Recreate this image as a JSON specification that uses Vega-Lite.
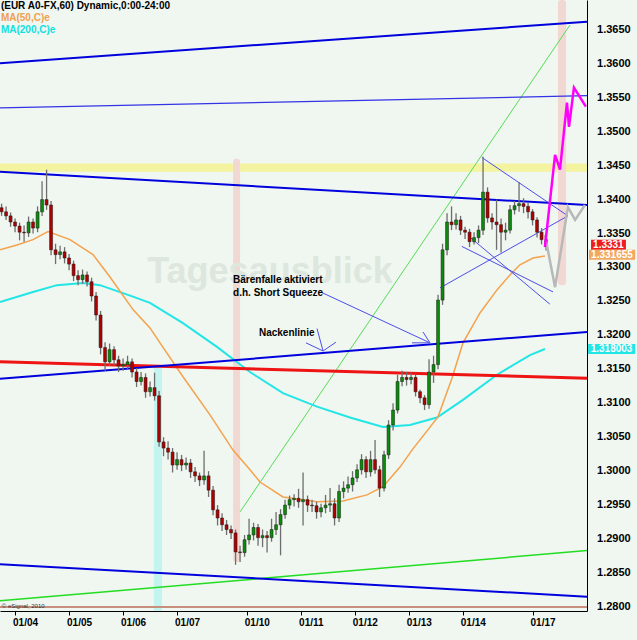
{
  "$schema": "https://vega.github.io/schema/vega-lite/v6.json",
  "width": 587,
  "height": 611,
  "autosize": "none",
  "padding": {"left": 0, "top": 0, "right": 50, "bottom": 29},
  "background": "#f0f6f0",
  "config": {"view": {"stroke": null}, "font": "Liberation Sans"},
  "datasets": {
    "candles": [
      {"t":-6,"o":1.3388,"h":1.3394,"l":1.3376,"c":1.3382},
      {"t":-4,"o":1.3382,"h":1.3390,"l":1.3370,"c":1.3376},
      {"t":-2,"o":1.3376,"h":1.3381,"l":1.3360,"c":1.3367},
      {"t":0,"o":1.3367,"h":1.3372,"l":1.3352,"c":1.3361},
      {"t":2,"o":1.3361,"h":1.3366,"l":1.3340,"c":1.3352},
      {"t":4,"o":1.3352,"h":1.3362,"l":1.3338,"c":1.3351},
      {"t":6,"o":1.3351,"h":1.3375,"l":1.3345,"c":1.3367},
      {"t":8,"o":1.3367,"h":1.3372,"l":1.3350,"c":1.3358},
      {"t":10,"o":1.3358,"h":1.3390,"l":1.3352,"c":1.3382},
      {"t":12,"o":1.3382,"h":1.3427,"l":1.3376,"c":1.3400},
      {"t":14,"o":1.3400,"h":1.3444,"l":1.3385,"c":1.3392},
      {"t":16,"o":1.3392,"h":1.3398,"l":1.3318,"c":1.3326},
      {"t":18,"o":1.3326,"h":1.3335,"l":1.3305,"c":1.3319},
      {"t":20,"o":1.3319,"h":1.3332,"l":1.3312,"c":1.3323},
      {"t":22,"o":1.3323,"h":1.3330,"l":1.3306,"c":1.3314},
      {"t":24,"o":1.3314,"h":1.3320,"l":1.3296,"c":1.3305},
      {"t":26,"o":1.3305,"h":1.3310,"l":1.3280,"c":1.3288},
      {"t":28,"o":1.3288,"h":1.3296,"l":1.3274,"c":1.3282},
      {"t":30,"o":1.3282,"h":1.3297,"l":1.3276,"c":1.3289},
      {"t":32,"o":1.3289,"h":1.3294,"l":1.3272,"c":1.3279},
      {"t":34,"o":1.3279,"h":1.3285,"l":1.3250,"c":1.3258},
      {"t":36,"o":1.3258,"h":1.3264,"l":1.3222,"c":1.3230},
      {"t":38,"o":1.3230,"h":1.3236,"l":1.3172,"c":1.3182},
      {"t":40,"o":1.3182,"h":1.3190,"l":1.3148,"c":1.3161},
      {"t":42,"o":1.3161,"h":1.3188,"l":1.3155,"c":1.3179},
      {"t":44,"o":1.3179,"h":1.3184,"l":1.3156,"c":1.3164},
      {"t":46,"o":1.3164,"h":1.3170,"l":1.3146,"c":1.3155},
      {"t":48,"o":1.3155,"h":1.3166,"l":1.3148,"c":1.3157},
      {"t":50,"o":1.3157,"h":1.3170,"l":1.3150,"c":1.3161},
      {"t":52,"o":1.3161,"h":1.3166,"l":1.3138,"c":1.3146},
      {"t":54,"o":1.3146,"h":1.3152,"l":1.3124,"c":1.3132},
      {"t":56,"o":1.3132,"h":1.3146,"l":1.3126,"c":1.3138},
      {"t":58,"o":1.3138,"h":1.3144,"l":1.3108,"c":1.3117},
      {"t":60,"o":1.3117,"h":1.3132,"l":1.3110,"c":1.3123},
      {"t":62,"o":1.3123,"h":1.3145,"l":1.3104,"c":1.3111},
      {"t":64,"o":1.3111,"h":1.3118,"l":1.3036,"c":1.3043},
      {"t":66,"o":1.3043,"h":1.3050,"l":1.3022,"c":1.3034},
      {"t":68,"o":1.3034,"h":1.3044,"l":1.3017,"c":1.3028},
      {"t":70,"o":1.3028,"h":1.3034,"l":1.2998,"c":1.3009},
      {"t":72,"o":1.3009,"h":1.3028,"l":1.3002,"c":1.3017},
      {"t":74,"o":1.3017,"h":1.3024,"l":1.3000,"c":1.3009},
      {"t":76,"o":1.3009,"h":1.3020,"l":1.3002,"c":1.3012},
      {"t":78,"o":1.3012,"h":1.3018,"l":1.2990,"c":1.2999},
      {"t":80,"o":1.2999,"h":1.3006,"l":1.2984,"c":1.2993},
      {"t":82,"o":1.2993,"h":1.2998,"l":1.2978,"c":1.2987},
      {"t":84,"o":1.2987,"h":1.3030,"l":1.2980,"c":1.2993},
      {"t":86,"o":1.2993,"h":1.3000,"l":1.2962,"c":1.2972},
      {"t":88,"o":1.2972,"h":1.2978,"l":1.2935,"c":1.2943},
      {"t":90,"o":1.2943,"h":1.2950,"l":1.2920,"c":1.2931},
      {"t":92,"o":1.2931,"h":1.2938,"l":1.2912,"c":1.2921},
      {"t":94,"o":1.2921,"h":1.2928,"l":1.2906,"c":1.2914},
      {"t":96,"o":1.2914,"h":1.2920,"l":1.2900,"c":1.2909},
      {"t":98,"o":1.2909,"h":1.2914,"l":1.2862,"c":1.2881},
      {"t":100,"o":1.2881,"h":1.2890,"l":1.2866,"c":1.2880},
      {"t":102,"o":1.2880,"h":1.2906,"l":1.2874,"c":1.2899},
      {"t":104,"o":1.2899,"h":1.2930,"l":1.2892,"c":1.2906},
      {"t":106,"o":1.2906,"h":1.2924,"l":1.2898,"c":1.2917},
      {"t":108,"o":1.2917,"h":1.2922,"l":1.2890,"c":1.2902},
      {"t":110,"o":1.2902,"h":1.2914,"l":1.2888,"c":1.2905},
      {"t":112,"o":1.2905,"h":1.2912,"l":1.2880,"c":1.2902},
      {"t":114,"o":1.2902,"h":1.2930,"l":1.2896,"c":1.2914},
      {"t":116,"o":1.2914,"h":1.2940,"l":1.2906,"c":1.2921},
      {"t":118,"o":1.2921,"h":1.2944,"l":1.2876,"c":1.2936},
      {"t":120,"o":1.2936,"h":1.2958,"l":1.2930,"c":1.2950},
      {"t":122,"o":1.2950,"h":1.2964,"l":1.2944,"c":1.2958},
      {"t":124,"o":1.2958,"h":1.2966,"l":1.2948,"c":1.2960},
      {"t":126,"o":1.2960,"h":1.2974,"l":1.2946,"c":1.2955},
      {"t":128,"o":1.2955,"h":1.2998,"l":1.2920,"c":1.2958},
      {"t":130,"o":1.2958,"h":1.2964,"l":1.2940,"c":1.2950},
      {"t":132,"o":1.2950,"h":1.2958,"l":1.2940,"c":1.2949},
      {"t":134,"o":1.2949,"h":1.2955,"l":1.2930,"c":1.2940},
      {"t":136,"o":1.2940,"h":1.2952,"l":1.2932,"c":1.2946},
      {"t":138,"o":1.2946,"h":1.2965,"l":1.2938,"c":1.2950},
      {"t":140,"o":1.2950,"h":1.2975,"l":1.2940,"c":1.2952},
      {"t":142,"o":1.2952,"h":1.2960,"l":1.2920,"c":1.2931},
      {"t":144,"o":1.2931,"h":1.2980,"l":1.2925,"c":1.2970},
      {"t":146,"o":1.2970,"h":1.2985,"l":1.2960,"c":1.2975},
      {"t":148,"o":1.2975,"h":1.2992,"l":1.2968,"c":1.2980},
      {"t":150,"o":1.2980,"h":1.3000,"l":1.2970,"c":1.2990},
      {"t":152,"o":1.2990,"h":1.3010,"l":1.2984,"c":1.3002},
      {"t":154,"o":1.3002,"h":1.3025,"l":1.2995,"c":1.3017},
      {"t":156,"o":1.3017,"h":1.3022,"l":1.2990,"c":1.2999},
      {"t":158,"o":1.2999,"h":1.3030,"l":1.2992,"c":1.3017},
      {"t":160,"o":1.3017,"h":1.3046,"l":1.2996,"c":1.3002},
      {"t":162,"o":1.3002,"h":1.3008,"l":1.2962,"c":1.2975},
      {"t":164,"o":1.2975,"h":1.3030,"l":1.2970,"c":1.3024},
      {"t":166,"o":1.3024,"h":1.3075,"l":1.3018,"c":1.3068},
      {"t":168,"o":1.3068,"h":1.3100,"l":1.3060,"c":1.3090},
      {"t":170,"o":1.3090,"h":1.3142,"l":1.3085,"c":1.3132},
      {"t":172,"o":1.3132,"h":1.3148,"l":1.3125,"c":1.3138},
      {"t":174,"o":1.3138,"h":1.3146,"l":1.3126,"c":1.3135},
      {"t":176,"o":1.3135,"h":1.3145,"l":1.3128,"c":1.3138},
      {"t":178,"o":1.3138,"h":1.3142,"l":1.3110,"c":1.3117},
      {"t":180,"o":1.3117,"h":1.3120,"l":1.3100,"c":1.3108},
      {"t":182,"o":1.3108,"h":1.3112,"l":1.3090,"c":1.3098},
      {"t":184,"o":1.3098,"h":1.3165,"l":1.3092,"c":1.3146},
      {"t":186,"o":1.3146,"h":1.3170,"l":1.3130,"c":1.3157},
      {"t":188,"o":1.3157,"h":1.3260,"l":1.3150,"c":1.3252},
      {"t":190,"o":1.3252,"h":1.3335,"l":1.3245,"c":1.3326},
      {"t":192,"o":1.3326,"h":1.3380,"l":1.3318,"c":1.3367},
      {"t":194,"o":1.3367,"h":1.3390,"l":1.3355,"c":1.3363},
      {"t":196,"o":1.3363,"h":1.3380,"l":1.3356,"c":1.3370},
      {"t":198,"o":1.3370,"h":1.3376,"l":1.3348,"c":1.3355},
      {"t":200,"o":1.3355,"h":1.3360,"l":1.3342,"c":1.3352},
      {"t":202,"o":1.3352,"h":1.3357,"l":1.3330,"c":1.3338},
      {"t":204,"o":1.3338,"h":1.3352,"l":1.3334,"c":1.3344},
      {"t":206,"o":1.3344,"h":1.3362,"l":1.3336,"c":1.3355},
      {"t":208,"o":1.3355,"h":1.3463,"l":1.3348,"c":1.3411},
      {"t":210,"o":1.3411,"h":1.3418,"l":1.3366,"c":1.3373},
      {"t":212,"o":1.3373,"h":1.3380,"l":1.3356,"c":1.3367},
      {"t":214,"o":1.3367,"h":1.3400,"l":1.3326,"c":1.3363},
      {"t":216,"o":1.3363,"h":1.3372,"l":1.3322,"c":1.3352},
      {"t":218,"o":1.3352,"h":1.3366,"l":1.3340,"c":1.3355},
      {"t":220,"o":1.3355,"h":1.3392,"l":1.3350,"c":1.3385},
      {"t":222,"o":1.3385,"h":1.3398,"l":1.3378,"c":1.3391},
      {"t":224,"o":1.3391,"h":1.3426,"l":1.3382,"c":1.3394},
      {"t":226,"o":1.3394,"h":1.3402,"l":1.3380,"c":1.3390},
      {"t":228,"o":1.3390,"h":1.3395,"l":1.3372,"c":1.3382},
      {"t":230,"o":1.3382,"h":1.3386,"l":1.3362,"c":1.3370},
      {"t":232,"o":1.3370,"h":1.3374,"l":1.3344,"c":1.3352},
      {"t":234,"o":1.3352,"h":1.3358,"l":1.3334,"c":1.3341},
      {"t":236,"o":1.3341,"h":1.3346,"l":1.3325,"c":1.3331}
    ],
    "blueThick": [
      {"id":"b1","t":-6.7,"p":1.3601},{"id":"b1","t":254.2,"p":1.3662},
      {"id":"b3","t":-6.7,"p":1.3441},{"id":"b3","t":254.2,"p":1.3392},
      {"id":"b4","t":-6.7,"p":1.3136},{"id":"b4","t":254.2,"p":1.3205},
      {"id":"b5","t":-6.7,"p":1.2863},{"id":"b5","t":254.2,"p":1.2815}
    ],
    "blueThin": [{"t":-6.7,"p":1.3535},{"t":254.2,"p":1.3553}],
    "red": [{"t":-6.7,"p":1.3161},{"t":254.2,"p":1.3137}],
    "greenLow": [{"t":-6.7,"p":1.2809},{"t":254.2,"p":1.2883}],
    "greenDiag": [{"t":100.0,"p":1.2940},{"t":246.6,"p":1.3657}],
    "brown": [{"t":-6.7,"p":1.28},{"t":254.2,"p":1.28}],
    "thin": [
      {"id":"T1","t":207.5,"p":1.3462},{"id":"T1","t":245.7,"p":1.3376},
      {"id":"T2","t":188.9,"p":1.3270},{"id":"T2","t":245.7,"p":1.3376},
      {"id":"C1","t":198.6,"p":1.3331},{"id":"C1","t":239.1,"p":1.3264},
      {"id":"C2","t":201.3,"p":1.3347},{"id":"C2","t":237.7,"p":1.3246},
      {"id":"A1","t":136.4,"p":1.3263},{"id":"A1","t":184.4,"p":1.3189},
      {"id":"A1a","t":181.3,"p":1.3205},{"id":"A1a","t":184.4,"p":1.3189},
      {"id":"A1b","t":176.4,"p":1.3189},{"id":"A1b","t":184.4,"p":1.3189},
      {"id":"A2a","t":134.2,"p":1.3210},{"id":"A2a","t":136.9,"p":1.3177},
      {"id":"A2b","t":129.3,"p":1.3189},{"id":"A2b","t":136.9,"p":1.3177},
      {"id":"A2c","t":136.9,"p":1.3177},{"id":"A2c","t":142.6,"p":1.3190}
    ],
    "ma50": [
      {"t":-6.7,"p":1.3326},{"t":0.86,"p":1.3333},{"t":7.97,"p":1.3341},{"t":14.63,"p":1.3353},
      {"t":24.41,"p":1.3341},{"t":34.63,"p":1.3319},{"t":42.19,"p":1.3286},{"t":52.41,"p":1.3238},
      {"t":59.97,"p":1.3211},{"t":64.41,"p":1.3189},{"t":74.63,"p":1.3139},{"t":86.63,"p":1.3083},
      {"t":96.86,"p":1.3031},{"t":104.41,"p":1.3002},{"t":108.86,"p":1.2984},{"t":119.08,"p":1.2962},
      {"t":134.19,"p":1.2955},{"t":145.74,"p":1.2956},{"t":156.41,"p":1.2965},{"t":163.52,"p":1.2977},
      {"t":171.08,"p":1.3006},{"t":176.41,"p":1.3031},{"t":187.97,"p":1.3080},{"t":194.19,"p":1.3137},
      {"t":199.08,"p":1.3189},{"t":206.63,"p":1.3233},{"t":214.19,"p":1.3267},{"t":219.97,"p":1.3289},
      {"t":224.41,"p":1.3304},{"t":230.19,"p":1.3314},{"t":235.52,"p":1.3317}
    ],
    "ma200": [
      {"t":-6.7,"p":1.3249},{"t":7.97,"p":1.3264},{"t":18.63,"p":1.3274},{"t":30.19,"p":1.3277},
      {"t":37.74,"p":1.3274},{"t":52.41,"p":1.3257},{"t":59.97,"p":1.3248},{"t":74.63,"p":1.3218},
      {"t":89.74,"p":1.3183},{"t":104.41,"p":1.3146},{"t":119.08,"p":1.3115},{"t":134.19,"p":1.3095},
      {"t":148.86,"p":1.3079},{"t":163.52,"p":1.3065},{"t":175.52,"p":1.3068},{"t":187.52,"p":1.3079},
      {"t":199.08,"p":1.3105},{"t":214.19,"p":1.3142},{"t":228.86,"p":1.3171},{"t":235.52,"p":1.3180}
    ],
    "magenta": [
      {"t":235.5,"p":1.3330},{"t":240.0,"p":1.3466},{"t":242.2,"p":1.3444},{"t":245.3,"p":1.3543},
      {"t":246.2,"p":1.3507},{"t":248.4,"p":1.3565},{"t":253.7,"p":1.3537}
    ],
    "gray": [
      {"t":235.5,"p":1.3348},{"t":240.0,"p":1.3271},{"t":245.7,"p":1.3389},{"t":248.9,"p":1.3370},{"t":253.3,"p":1.3392}
    ],
    "tags": [
      {"name": "Kurs", "t": 256.0, "t2": 271.5, "tm": 263.7, "p": 1.33336, "label": "1.3331"},
      {"name": "MA50", "t": 255.1, "t2": 275.6, "tm": 265.3, "p": 1.33186, "label": "1.331655"},
      {"name": "MA200", "t": 254.7, "t2": 275.6, "tm": 265.1, "p": 1.318003, "label": "1.318003"}
    ],
    "priceLabels": [
      {"t": 258.65, "p": 1.28}, {"t": 258.65, "p": 1.285}, {"t": 258.65, "p": 1.29}, {"t": 258.65, "p": 1.295},
      {"t": 258.65, "p": 1.3}, {"t": 258.65, "p": 1.305}, {"t": 258.65, "p": 1.31}, {"t": 258.65, "p": 1.315},
      {"t": 258.65, "p": 1.32}, {"t": 258.65, "p": 1.325}, {"t": 258.65, "p": 1.33}, {"t": 258.65, "p": 1.335},
      {"t": 258.65, "p": 1.34}, {"t": 258.65, "p": 1.345}, {"t": 258.65, "p": 1.35}, {"t": 258.65, "p": 1.355},
      {"t": 258.65, "p": 1.36}, {"t": 258.65, "p": 1.365}
    ]
  },
  "encoding": {
    "x": {
      "field": "t", "type": "quantitative",
      "scale": {"domain": [-6.7, 254.2], "nice": false, "zero": false, "padding": 0},
      "axis": {
        "orient": "bottom", "title": null, "grid": false,
        "values": [0, 24, 48, 72, 103, 127, 151, 175, 199, 230],
        "labelExpr": "datum.value==0?'01/04':datum.value==24?'01/05':datum.value==48?'01/06':datum.value==72?'01/07':datum.value==103?'01/10':datum.value==127?'01/11':datum.value==151?'01/12':datum.value==175?'01/13':datum.value==199?'01/14':'01/17'",
        "labelOffset": 10, "labelFontSize": 10, "labelFontWeight": "bold", "labelColor": "#000000",
        "labelPadding": 2, "tickSize": 4, "tickColor": "#000000", "domainColor": "#000000",
        "labelFlush": false, "labelOverlap": false
      }
    },
    "y": {
      "field": "p", "type": "quantitative",
      "scale": {"domain": [1.2794, 1.3694], "nice": false, "zero": false, "padding": 0},
      "axis": {
        "orient": "right", "title": null, "grid": false,
        "labels": false, "ticks": false, "domainColor": "#000000"
      }
    }
  },
  "layer": [
    {
      "data": {"values": [{"t": -6.7, "t2": 254.2, "p": 1.3441, "p2": 1.3453}]},
      "mark": {"type": "rect", "color": "#f3f3a0"},
      "encoding": {"x2": {"field": "t2"}, "y2": {"field": "p2"}}
    },
    {
      "data": {"values": [{"t": 96.9, "t2": 100.0, "p": 1.2866, "p2": 1.3460}, {"t": 241.3, "t2": 244.9, "p": 1.3274, "p2": 1.3694}]},
      "mark": {"type": "rect", "color": "#f1d8d2", "cornerRadius": 3},
      "encoding": {"x2": {"field": "t2"}, "y2": {"field": "p2"}}
    },
    {
      "data": {"values": [{"t": 61.7, "t2": 65.3, "p": 1.2794, "p2": 1.3154}]},
      "mark": {"type": "rect", "color": "#c4f4f0"},
      "encoding": {"x2": {"field": "t2"}, "y2": {"field": "p2"}}
    },
    {
      "data": {"values": [{"t": 113.3, "p": 1.3294, "label": "Tagesausblick"}]},
      "mark": {"type": "text", "fontSize": 36, "fontWeight": "bold", "color": "#dde7dd", "align": "center", "baseline": "middle"},
      "encoding": {"text": {"field": "label"}}
    },
    {"data": {"name": "brown"}, "mark": {"type": "line", "color": "#c8907c", "strokeWidth": 2}, "encoding": {}},
    {"data": {"name": "greenLow"}, "mark": {"type": "line", "color": "#22dd22", "strokeWidth": 1.5}, "encoding": {}},
    {"data": {"name": "greenDiag"}, "mark": {"type": "line", "color": "#55dd55", "strokeWidth": 1}, "encoding": {}},
    {"data": {"name": "ma200"}, "mark": {"type": "line", "color": "#22e6e6", "strokeWidth": 2}, "encoding": {}},
    {"data": {"name": "ma50"}, "mark": {"type": "line", "color": "#f4a24c", "strokeWidth": 1.5}, "encoding": {}},
    {"data": {"name": "red"}, "mark": {"type": "line", "color": "#ee1414", "strokeWidth": 3}, "encoding": {}},
    {"data": {"name": "blueThin"}, "mark": {"type": "line", "color": "#3333e6", "strokeWidth": 1.3}, "encoding": {}},
    {
      "data": {"name": "blueThick"},
      "mark": {"type": "line", "color": "#0000dd", "strokeWidth": 2},
      "encoding": {"detail": {"field": "id"}}
    },
    {
      "data": {"name": "thin"},
      "mark": {"type": "line", "color": "#4d4dea", "strokeWidth": 1},
      "encoding": {"detail": {"field": "id"}}
    },
    {
      "data": {"name": "candles"},
      "mark": {"type": "rule", "color": "#6e6e6e", "strokeWidth": 1.3},
      "encoding": {"y": {"field": "l", "type": "quantitative"}, "y2": {"field": "h"}}
    },
    {
      "data": {"name": "candles"},
      "mark": {"type": "bar", "width": 3, "stroke": "#1a1a1a", "strokeWidth": 0.5},
      "encoding": {
        "y": {"field": "o", "type": "quantitative"},
        "y2": {"field": "c"},
        "color": {"condition": {"test": "datum.c >= datum.o", "value": "#0a8c0a"}, "value": "#b00000"}
      }
    },
    {"data": {"name": "gray"}, "mark": {"type": "line", "color": "#b8b8b8", "strokeWidth": 2.5}, "encoding": {}},
    {"data": {"name": "magenta"}, "mark": {"type": "line", "color": "#ff00ff", "strokeWidth": 2.5}, "encoding": {}},
    {
      "data": {"values": [
        {"t": 96.9, "p": 1.3282, "label": "Bärenfalle aktiviert"},
        {"t": 96.9, "p": 1.3263, "label": "d.h. Short Squeeze"},
        {"t": 108.4, "p": 1.3204, "label": "Nackenlinie"}
      ]},
      "mark": {"type": "text", "fontSize": 10, "fontWeight": "bold", "color": "#000000", "align": "left", "baseline": "middle"},
      "encoding": {"text": {"field": "label"}}
    },
    {
      "data": {"values": [{"t": -6.3, "p": 1.36854, "label": "(EUR A0-FX,60) Dynamic,0:00-24:00"}]},
      "mark": {"type": "text", "fontSize": 10, "fontWeight": "bold", "align": "left", "baseline": "middle", "color": "#000000"},
      "encoding": {"text": {"field": "label"}}
    },
    {
      "data": {"values": [{"t": -6.3, "p": 1.36677, "label": "MA(50,C)e"}]},
      "mark": {"type": "text", "fontSize": 10, "fontWeight": "bold", "align": "left", "baseline": "middle", "color": "#f0a050"},
      "encoding": {"text": {"field": "label"}}
    },
    {
      "data": {"values": [{"t": -6.3, "p": 1.36500, "label": "MA(200,C)e"}]},
      "mark": {"type": "text", "fontSize": 10, "fontWeight": "bold", "align": "left", "baseline": "middle", "color": "#10e0e0"},
      "encoding": {"text": {"field": "label"}}
    },
    {
      "data": {"values": [{"t": -5.9, "p": 1.2802, "label": "© eSignal, 2010"}]},
      "mark": {"type": "text", "fontSize": 6, "color": "#333333", "align": "left", "baseline": "middle"},
      "encoding": {"text": {"field": "label"}}
    },
    {
      "data": {"name": "tags"},
      "mark": {"type": "bar", "height": 10, "opacity": 1},
      "encoding": {
        "x2": {"field": "t2"},
        "color": {"field": "name", "type": "nominal", "legend": null,
          "scale": {"domain": ["Kurs", "MA50", "MA200"], "range": ["#ee1c1c", "#f2a860", "#22e6e6"]}}
      }
    },
    {
      "data": {"name": "tags"},
      "mark": {"type": "text", "fontSize": 10, "fontWeight": "bold", "color": "#ffffff", "align": "center", "baseline": "middle"},
      "encoding": {"x": {"field": "tm", "type": "quantitative"}, "text": {"field": "label"}}
    },
    {
      "data": {"name": "priceLabels"},
      "mark": {"type": "text", "fontSize": 11, "fontWeight": "bold", "color": "#000000", "align": "left", "baseline": "middle"},
      "encoding": {"text": {"field": "p", "type": "quantitative", "format": ".4f"}}
    }
  ]
}
